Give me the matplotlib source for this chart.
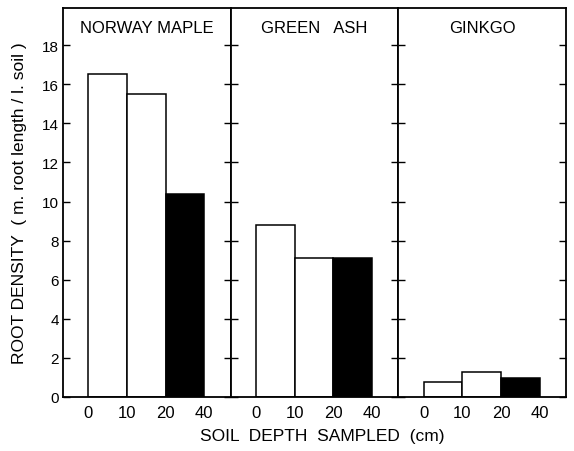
import matplotlib
matplotlib.use('Agg')
import matplotlib.pyplot as plt

plt.rcParams['font.family'] = ['Liberation Sans', 'DejaVu Sans']

# Data
species = ['NORWAY MAPLE', 'GREEN   ASH', 'GINKGO']
depth_edges = ['0', '10', '20', '40']
density = [
    [16.5, 15.5, 10.4],   # Norway maple
    [8.8, 7.1, 7.1],      # Green ash
    [0.75, 1.3, 0.95],    # Ginkgo
]
bar_colors = ['white', 'white', 'black']

fig = plt.figure(figsize=(5.74, 4.52), dpi=100)

left, right = 63 / 574, 566 / 574
bottom, top = 1 - 398 / 452, 1 - 9 / 452
w = (right - left) / 3

for i, name in enumerate(species):
    ax = fig.add_axes([left + i * w, bottom, w, top - bottom])
    ax.bar(range(3), density[i], width=1.0, align='edge',
           color=bar_colors, edgecolor='black', linewidth=1.1)
    ax.set_xlim(-0.65, 3.68)
    ax.set_ylim(0, 19.9)
    ax.set_xticks(range(4))
    ax.set_xticklabels(depth_edges, fontsize=12)
    ax.tick_params(axis='x', length=0, pad=6)
    ax.set_yticks(range(0, 19, 2))
    ax.tick_params(axis='y', direction='in', left=True, right=True,
                   length=5, width=1.0, labelsize=11, pad=3)
    if i > 0:
        ax.tick_params(axis='y', labelleft=False)
    for sp in ax.spines.values():
        sp.set_linewidth(1.3)
    ax.text(0.5, 0.951, name, transform=ax.transAxes, ha='center',
            va='center', fontsize=12)

fig.text(0.034, (bottom + top) / 2,
         'ROOT DENSITY  ( m. root length / l. soil )',
         rotation=90, ha='center', va='center', fontsize=12.5)
fig.text(322 / 574, 1 - 437 / 452, 'SOIL  DEPTH  SAMPLED  (cm)',
         ha='center', va='center', fontsize=12.5)

fig.savefig('out.png', dpi=100)
